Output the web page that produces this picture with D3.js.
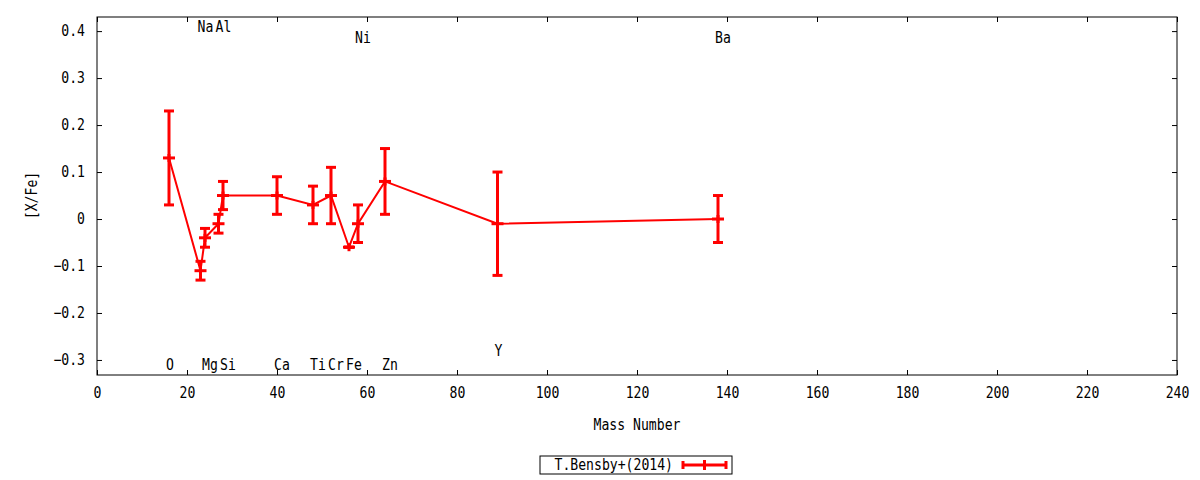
<!DOCTYPE html>
<html>
<head>
<meta charset="utf-8">
<script src="https://cdn.jsdelivr.net/npm/d3@7"></script>
<style>
  body { margin: 0; background: #fff; }
  text { font-family: "DejaVu Sans Mono", monospace; font-size: 15px; fill: #000; }
</style>
</head>
<body>
<script>
// element abundances vs mass number
var elements = ["O", "Na", "Mg", "Al", "Si", "Ca", "Ti", "Cr", "Fe", "Ni", "Zn", "Y", "Ba"];
var massNumbers = [16, 23, 24, 27, 28, 40, 48, 52, 56, 58, 64, 89, 138];
var xfeValues = [0.13, -0.11, -0.04, -0.01, 0.05, 0.05, 0.03, 0.05, -0.06, -0.01, 0.08, -0.01, 0.00];
var xfeErrors = [0.10, 0.02, 0.02, 0.02, 0.03, 0.04, 0.04, 0.06, 0.0, 0.04, 0.07, 0.11, 0.05];
// where each element name sits on the [X/Fe] axis
var labelLevels = [-0.31, 0.41, -0.31, 0.41, -0.31, -0.31, -0.31, -0.31, -0.31, 0.385, -0.31, -0.28, 0.385];

var xTicks = [0, 20, 40, 60, 80, 100, 120, 140, 160, 180, 200, 220, 240];
var yTicks = [-0.3, -0.2, -0.1, 0, 0.1, 0.2, 0.3, 0.4];
var seriesName = "T.Bensby+(2014)";

var svgWidth = 1200;
var svgHeight = 480;
var margin = { top: 17, right: 23, bottom: 105, left: 97 };
var chartWidth = svgWidth - margin.left - margin.right;
var chartHeight = svgHeight - margin.top - margin.bottom;
var charW = 7.9; // condensed glyph advance

var svg = d3.select("body")
  .append("svg")
  .attr("width", svgWidth)
  .attr("height", svgHeight);

var chartGroup = svg.append("g")
  .attr("transform", `translate(${margin.left}, ${margin.top})`);

var xScale = d3.scaleLinear().domain([0, 240]).range([0, chartWidth]);
var yScale = d3.scaleLinear().domain([-0.332, 0.43]).range([chartHeight, 0]);

var tickLen = 5;

// ticks on all four sides, pointing inward
var bottomAxis = d3.axisBottom(xScale).tickValues(xTicks).tickSizeInner(-tickLen).tickSizeOuter(0).tickPadding(12);
var topAxis = d3.axisTop(xScale).tickValues(xTicks).tickSizeInner(-tickLen).tickSizeOuter(0).tickFormat("");
var leftAxis = d3.axisLeft(yScale).tickValues(yTicks).tickSizeInner(-tickLen).tickSizeOuter(0).tickPadding(12)
  .tickFormat(d => d === 0 ? "0" : d3.format(".1f")(d));
var rightAxis = d3.axisRight(yScale).tickValues(yTicks).tickSizeInner(-tickLen).tickSizeOuter(0).tickFormat("");

chartGroup.append("g").attr("transform", `translate(0, ${chartHeight})`).call(bottomAxis);
chartGroup.append("g").call(topAxis);
chartGroup.append("g").call(leftAxis);
chartGroup.append("g").attr("transform", `translate(${chartWidth}, 0)`).call(rightAxis);

svg.selectAll(".domain").remove();
svg.selectAll(".tick line").attr("stroke", "#000");
svg.selectAll(".tick text").style("font-family", "DejaVu Sans Mono").style("font-size", "15px");

chartGroup.append("rect")
  .attr("width", chartWidth)
  .attr("height", chartHeight)
  .attr("fill", "none")
  .attr("stroke", "#000")
  .attr("stroke-width", 1);

// element labels
chartGroup.selectAll(".elem")
  .data(elements)
  .enter()
  .append("text")
  .attr("class", "elem")
  .attr("x", (d, i) => xScale(massNumbers[i]) - 3)
  .attr("y", (d, i) => yScale(labelLevels[i]))
  .attr("dy", "0.35em")
  .text(d => d);

var points = massNumbers.map((m, i) => ({ x: m, y: xfeValues[i], e: xfeErrors[i] }));
var red = "#ff0000";

var line = d3.line().x(d => xScale(d.x)).y(d => yScale(d.y));
chartGroup.append("path")
  .datum(points)
  .attr("d", line)
  .attr("fill", "none")
  .attr("stroke", red)
  .attr("stroke-width", 2);

var capW = 5;
var bars = chartGroup.selectAll(".err")
  .data(points)
  .enter()
  .append("g")
  .attr("class", "err")
  .attr("stroke", red)
  .attr("stroke-width", 3);

bars.append("line")
  .attr("x1", d => xScale(d.x)).attr("x2", d => xScale(d.x))
  .attr("y1", d => yScale(d.y - d.e)).attr("y2", d => yScale(d.y + d.e));
bars.append("line")
  .attr("x1", d => xScale(d.x) - capW).attr("x2", d => xScale(d.x) + capW)
  .attr("y1", d => yScale(d.y - d.e)).attr("y2", d => yScale(d.y - d.e));
bars.append("line")
  .attr("x1", d => xScale(d.x) - capW).attr("x2", d => xScale(d.x) + capW)
  .attr("y1", d => yScale(d.y + d.e)).attr("y2", d => yScale(d.y + d.e));
// plus marker at the value
bars.append("line")
  .attr("x1", d => xScale(d.x) - capW - 1).attr("x2", d => xScale(d.x) + capW + 1)
  .attr("y1", d => yScale(d.y)).attr("y2", d => yScale(d.y));
bars.append("line")
  .attr("x1", d => xScale(d.x)).attr("x2", d => xScale(d.x))
  .attr("y1", d => yScale(d.y) - 4).attr("y2", d => yScale(d.y) + 4);

// axis titles
svg.append("text")
  .attr("x", margin.left + chartWidth / 2)
  .attr("y", 430)
  .attr("text-anchor", "middle")
  .text("Mass Number");

svg.append("text")
  .attr("transform", `translate(37, ${margin.top + yScale(0.05)}) rotate(-90)`)
  .attr("text-anchor", "middle")
  .text("[X/Fe]");

// legend
var legend = svg.append("g").attr("transform", "translate(540, 456)");
legend.append("rect")
  .attr("width", 192)
  .attr("height", 18)
  .attr("fill", "#fff")
  .attr("stroke", "#000");
legend.append("text")
  .attr("x", 133)
  .attr("y", 9)
  .attr("dy", "0.35em")
  .attr("text-anchor", "end")
  .text(seriesName);
var sample = legend.append("g").attr("stroke", red).attr("stroke-width", 3);
sample.append("line").attr("x1", 143).attr("x2", 186).attr("y1", 9).attr("y2", 9);
sample.append("line").attr("x1", 143).attr("x2", 143).attr("y1", 5).attr("y2", 13);
sample.append("line").attr("x1", 186).attr("x2", 186).attr("y1", 5).attr("y2", 13);
sample.append("line").attr("x1", 164.5).attr("x2", 164.5).attr("y1", 4).attr("y2", 14);

// squeeze every label to the narrow glyph width of the original
svg.selectAll("text")
  .attr("textLength", function () { return this.textContent.length * charW; })
  .attr("lengthAdjust", "spacingAndGlyphs");
</script>
</body>
</html>
